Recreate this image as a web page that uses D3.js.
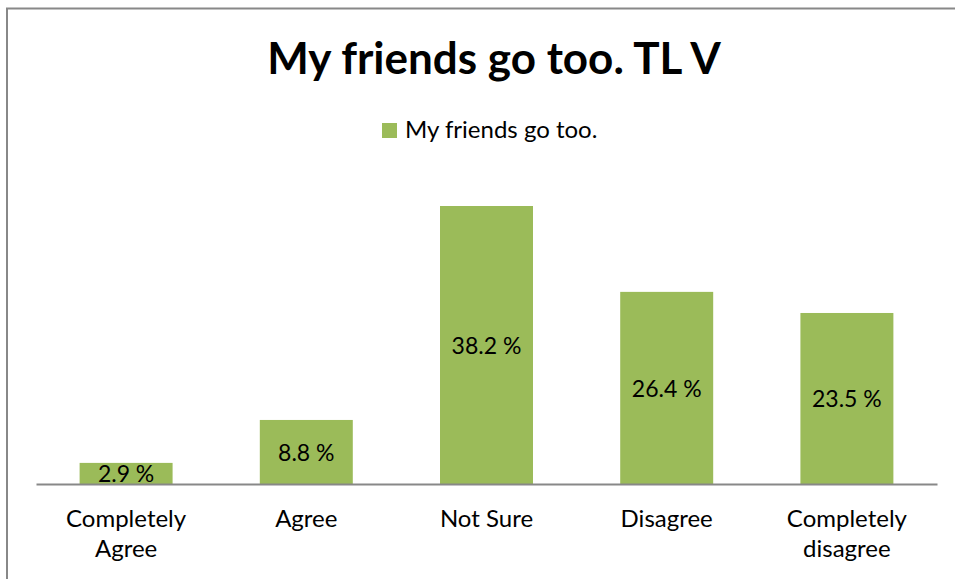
<!DOCTYPE html>
<html><head><meta charset="utf-8">
<script src="https://cdn.jsdelivr.net/npm/d3@7"></script>
<style>body{margin:0;background:#fff}svg{display:block}text{font-family:Lato,"Open Sans",sans-serif;fill:#000}</style>
</head><body><svg id="c" width="955" height="579"></svg>
<script>
const categories = [["Completely","Agree"],["Agree"],["Not Sure"],["Disagree"],["Completely","disagree"]];
const values = [2.9, 8.8, 38.2, 26.4, 23.5];
const valueLabels = ["2.9 %","8.8 %","38.2 %","26.4 %","23.5 %"];
const seriesName = "My friends go too.";
const title = "My friends go too. TL V";

const svg = d3.select("#c");
const green = "#9BBB59";
svg.append("path").attr("d","M7,579V8.5H955").attr("fill","none").attr("stroke","#888").attr("stroke-width",2);

const x = d3.scaleBand().domain(d3.range(values.length)).range([36,937]).paddingInner(0.484).paddingOuter(0.242);
const y = d3.scaleLinear().domain([0,38.2]).range([484,206]);

svg.append("text").attr("x",494).attr("y",74).attr("text-anchor","middle")
  .attr("font-size",44).attr("font-weight","bold").text(title);

svg.append("rect").attr("x",382).attr("y",123).attr("width",15).attr("height",15).attr("fill",green);
svg.append("text").attr("x",405).attr("y",138).attr("font-size",24).text(seriesName);

svg.selectAll("rect.bar").data(values).join("rect").attr("class","bar")
  .attr("x",(d,i)=>x(i)).attr("width",x.bandwidth())
  .attr("y",d=>y(d)).attr("height",d=>y(0)-y(d)).attr("fill",green);

svg.selectAll("text.val").data(values).join("text").attr("class","val")
  .attr("x",(d,i)=>x(i)+x.bandwidth()/2).attr("y",d=>(y(d)+y(0))/2+9)
  .attr("text-anchor","middle").attr("font-size",23).text((d,i)=>valueLabels[i]);

const ax = d3.axisBottom(x).tickSize(0).tickFormat("");
const g = svg.append("g").attr("transform","translate(0,484)").call(ax);
g.select(".domain").attr("stroke","#888").attr("stroke-width",2);

categories.forEach((lines,i)=>{
  const t = svg.append("text").attr("x",x(i)+x.bandwidth()/2).attr("y",527).attr("text-anchor","middle").attr("font-size",24);
  lines.forEach((l,j)=>t.append("tspan").attr("x",x(i)+x.bandwidth()/2).attr("dy",j?30:0).text(l));
});
</script></body></html>
